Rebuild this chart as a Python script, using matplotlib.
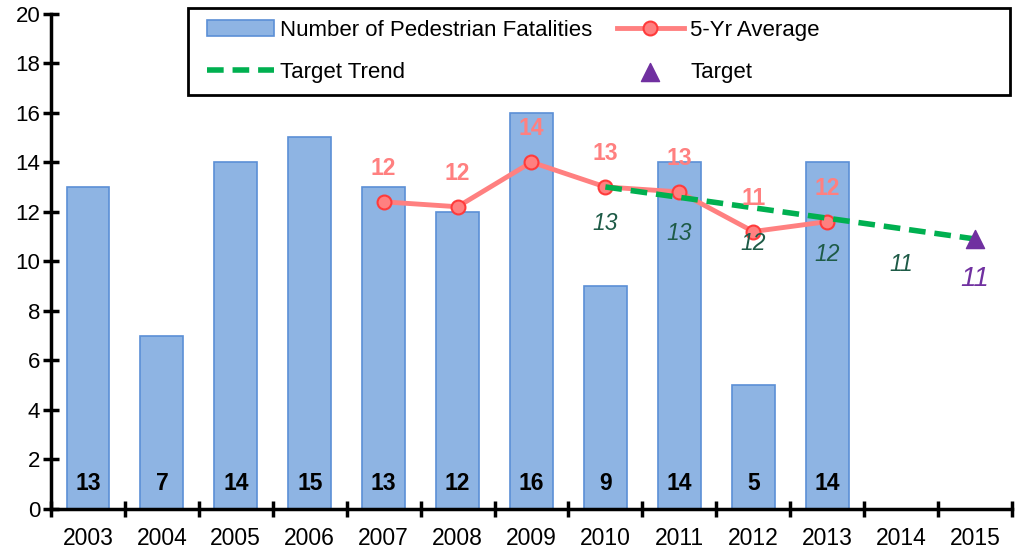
import matplotlib.pyplot as plt
import matplotlib.patches as mpatches
from matplotlib.ticker import FixedLocator

plt.rcParams['font.family'] = ['Liberation Sans', 'DejaVu Sans']

years = ['2003', '2004', '2005', '2006', '2007', '2008', '2009',
         '2010', '2011', '2012', '2013', '2014', '2015']
fatalities = [13, 7, 14, 15, 13, 12, 16, 9, 14, 5, 14]
avg_years = ['2007', '2008', '2009', '2010', '2011', '2012', '2013']
avg_vals = [12.4, 12.2, 14.0, 13.0, 12.8, 11.2, 11.6]
trend_years = ['2010', '2011', '2012', '2013', '2014', '2015']
trend_vals = [13.0, 12.58, 12.16, 11.74, 11.32, 10.9]
target_year = '2015'
target_val = 10.9

xpos = {y: i for i, y in enumerate(years)}

fig = plt.figure(figsize=(10.16, 5.56), dpi=100)
ax = fig.add_axes([0.0502, 0.0845, 0.9458, 0.8912])

bx = [xpos[y] for y in years[:len(fatalities)]]
bars = ax.bar(bx, fatalities, width=0.58, color='#8EB4E3', edgecolor='#5B8FD6',
              linewidth=1.2, label='Number of Pedestrian Fatalities', zorder=2)
for x, v in zip(bx, fatalities):
    ax.text(x, 1.05, str(v), ha='center', va='center', fontsize=16.5,
            fontweight='bold', color='black', zorder=5)

ax_x = [xpos[y] for y in avg_years]
avg_line, = ax.plot(ax_x, avg_vals, color='#FF8080', linewidth=3.5, marker='o',
                    markersize=10, markerfacecolor='#FF8080', markeredgecolor='#FF3B3B',
                    markeredgewidth=1.5, label='5-Yr Average', zorder=3)
for x, v in zip(ax_x, avg_vals):
    ax.annotate(str(int(round(v))), (x, v), xytext=(0, 24), textcoords='offset points',
                ha='center', va='center', fontsize=16.5, fontweight='bold',
                color='#FF8080', zorder=6)

tx = [xpos[y] for y in trend_years]
trend_line, = ax.plot(tx, trend_vals, color='#00B050', linewidth=4, linestyle=(0, (3, 1.6)),
                      label='Target Trend', zorder=4)
for x, v in zip(tx[:-1], trend_vals[:-1]):
    ax.annotate(str(int(round(v))), (x, v), xytext=(0, -26), textcoords='offset points',
                ha='center', va='center', fontsize=16.5, style='italic',
                color='#1E5B47', zorder=6)

tgt = ax.scatter([xpos[target_year]], [target_val], marker='^', s=170, color='#7030A0',
                 label='Target', zorder=5)
ax.annotate(str(int(round(target_val))), (xpos[target_year], target_val), xytext=(0, -29),
            textcoords='offset points', ha='center', va='center', fontsize=20,
            style='italic', color='#7030A0', zorder=6)

ax.set_xlim(-0.5, len(years) - 0.5)
ax.set_ylim(0, 20)
ax.set_yticks(range(0, 21, 2))
ax.set_xticks(range(len(years)))
ax.set_xticklabels(years)
ax.xaxis.set_minor_locator(FixedLocator([i + 0.5 for i in range(-1, len(years))]))
ax.tick_params(axis='x', which='major', length=0, labelsize=16.5, pad=13)
ax.tick_params(axis='x', which='minor', direction='inout', length=12, width=2.5)
ax.tick_params(axis='y', direction='inout', length=11.5, width=2.5, labelsize=16, pad=2)
for s in ['top', 'right']:
    ax.spines[s].set_visible(False)
for s in ['left', 'bottom']:
    ax.spines[s].set_linewidth(2.5)

# legend frame drawn separately so it can be wider than the entries
frame = mpatches.Rectangle((188 / 1016, 1 - 95 / 556), 822 / 1016, 87 / 556,
                           transform=fig.transFigure, facecolor='white', edgecolor='black',
                           linewidth=2, clip_on=False, zorder=9)
ax.add_patch(frame)

leg = ax.legend(handles=[bars, trend_line, avg_line, tgt], ncol=2, fontsize=16,
                loc='upper left', bbox_to_anchor=(207 / 1016, 1 - 20 / 556),
                bbox_transform=fig.transFigure, frameon=False, borderaxespad=0,
                borderpad=0, handlelength=3.0, handletextpad=0.3, columnspacing=1.1,
                labelspacing=0.95, scatterpoints=1)
leg.set_zorder(10)

fig.savefig('out.png', dpi=100)
